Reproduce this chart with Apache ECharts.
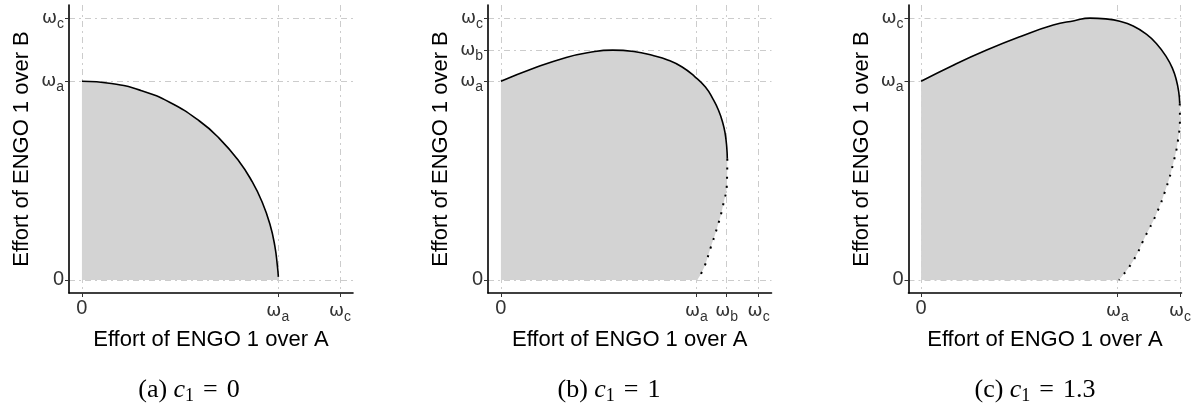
<!DOCTYPE html>
<html lang="en">
<head>
  <meta charset="UTF-8">
  <script src="https://cdn.jsdelivr.net/npm/echarts@6/dist/echarts.min.js"></script>
  <title>Effort of ENGO 1</title>
</head>
<body style="margin: 0">
  <div id="chart" style="width: 1200px; height: 407px"></div>
  <script>
    // tick values, in units of omega_a
    const W_A = 1, W_B = 1.155, W_C = 1.318
    const tickValues = [0, W_A, W_B, W_C]
    const tickNames = ['0', 'a', 'b', 'c']

    // (a) c1 = 0
    const aSolidX = [0, 0.15, 0.3, 0.45, 0.6, 0.7, 0.8, 0.87, 0.92, 0.96, 0.985, 0.998, 1.003]
    const aSolidY = [1, 0.989, 0.954, 0.893, 0.8, 0.714, 0.6, 0.493, 0.392, 0.28, 0.17, 0.07, 0.015]
    // (b) c1 = 1
    const bSolidX = [0, 0.164, 0.334, 0.45, 0.571, 0.68, 0.774, 0.86, 0.927, 0.99, 1.046, 1.085, 1.113, 1.135, 1.147, 1.155, 1.158]
    const bSolidY = [1, 1.064, 1.12, 1.145, 1.157, 1.15, 1.131, 1.105, 1.072, 1.025, 0.971, 0.91, 0.854, 0.79, 0.736, 0.67, 0.61]
    const bDotX = [1.158, 1.156, 1.135, 1.105, 1.072, 1.04, 1.005]
    const bDotY = [0.61, 0.49, 0.37, 0.26, 0.16, 0.065, 0]
    // (c) c1 = 1.3
    const cSolidX = [0, 0.164, 0.334, 0.503, 0.673, 0.78, 0.86, 0.94, 1.012, 1.08, 1.147, 1.2, 1.249, 1.28, 1.3, 1.312, 1.317]
    const cSolidY = [1, 1.081, 1.157, 1.224, 1.283, 1.305, 1.318, 1.314, 1.302, 1.278, 1.237, 1.188, 1.123, 1.065, 1.005, 0.945, 0.887]
    const cDotX = [1.317, 1.318, 1.308, 1.283, 1.249, 1.198, 1.139, 1.08, 1.008]
    const cDotY = [0.887, 0.82, 0.702, 0.584, 0.466, 0.332, 0.214, 0.096, 0]

    const captionLetters = ['a', 'b', 'c']
    const c1Values = ['0', '1', '1.3']

    const zip = (xs, ys) => xs.map((x, i) => [x, ys[i]])

    const panels = [
      { solid: zip(aSolidX, aSolidY), dot: [], xTicks: [0, W_A, W_C], yTicks: [0, W_A, W_C],
        grid: { left: 69, top: 5, width: 284, height: 288 }, xRange: [-0.066, 1.384], caption: 184 },
      { solid: zip(bSolidX, bSolidY), dot: zip(bDotX, bDotY), xTicks: tickValues, yTicks: tickValues,
        grid: { left: 488, top: 5, width: 283.5, height: 288 }, xRange: [-0.066, 1.384], caption: 604 },
      { solid: zip(cSolidX, cSolidY), dot: zip(cDotX, cDotY), xTicks: [0, W_A, W_C], yTicks: [0, W_A, W_C],
        grid: { left: 908.5, top: 5, width: 273, height: 288 }, xRange: [-0.064, 1.326], caption: 1030 }
    ]

    function tickLabel(v) {
      const i = tickValues.findIndex(t => Math.abs(t - v) < 1e-6)
      if (i <= 0) return '{n|0}'
      return '{w|ω}{s|' + tickNames[i] + '}'
    }

    const labelRich = {
      n: { fontSize: 20, fontFamily: 'Liberation Sans', color: '#333' },
      w: { fontSize: 18, fontFamily: 'DejaVu Sans', color: '#333' },
      s: { fontSize: 14, fontFamily: 'Liberation Sans', color: '#333', padding: [12, 0, 0, 0] }
    }

    const gridStyle = { show: true, lineStyle: { color: '#cccccc', width: 1, type: [6, 4, 2, 4] } }

    function axis(ticks, range, idx, name, gap) {
      return {
        type: 'value', gridIndex: idx, min: range[0], max: range[1],
        name: name, nameLocation: 'middle', nameGap: gap,
        nameTextStyle: { fontSize: 22, fontFamily: 'Liberation Sans', color: '#000' },
        axisLine: { show: true, onZero: false, lineStyle: { color: '#000', width: 1.6 } },
        axisTick: { show: true, length: 4, customValues: ticks, lineStyle: { color: '#333', width: 1 } },
        axisLabel: { customValues: ticks, formatter: tickLabel, rich: labelRich, margin: 5 },
        splitLine: gridStyle
      }
    }

    const serif = { fontFamily: 'Liberation Serif', fontWeight: 'normal', color: '#000' }

    const option = {
      animation: false,
      backgroundColor: '#fff',
      grid: panels.map(p => p.grid),
      xAxis: panels.map((p, i) => axis(p.xTicks, p.xRange, i, 'Effort of ENGO 1 over A', 30)),
      yAxis: panels.map((p, i) => axis(p.yTicks, [-0.066, 1.384], i, 'Effort of ENGO 1 over B', 36)),
      title: panels.map((p, i) => ({
        text: '{t|(' + captionLetters[i] + ') }{i|c}{s|1}{e|=}{t|' + c1Values[i] + '}',
        left: p.caption, top: 371, textAlign: 'center',
        textStyle: {
          fontWeight: 'normal',
          rich: {
            t: { ...serif, fontSize: 26 },
            i: { ...serif, fontSize: 26, fontStyle: 'italic' },
            s: { ...serif, fontSize: 18, padding: [11, 0, 0, 0] },
            e: { ...serif, fontSize: 26, padding: [0, 9, 0, 9] }
          }
        }
      })),
      series: []
    }

    panels.forEach((p, i) => {
      option.series.push({
        type: 'line', xAxisIndex: i, yAxisIndex: i, smooth: 0.5, symbol: 'none',
        data: p.solid.concat(p.dot.slice(1)),
        lineStyle: { width: 0 },
        areaStyle: { color: '#d3d3d3', opacity: 1 }
      })
      option.series.push({
        type: 'line', xAxisIndex: i, yAxisIndex: i, smooth: 0.5, symbol: 'none',
        data: p.solid, lineStyle: { color: '#000', width: 1.6 }
      })
      if (p.dot.length) {
        option.series.push({
          type: 'line', xAxisIndex: i, yAxisIndex: i, smooth: 0.5, symbol: 'none',
          data: p.dot, lineStyle: { color: '#000', width: 2, type: [2, 7] }
        })
      }
    })

    const chart = echarts.init(document.getElementById('chart'))
    chart.setOption(option)
  </script>
</body>
</html>
